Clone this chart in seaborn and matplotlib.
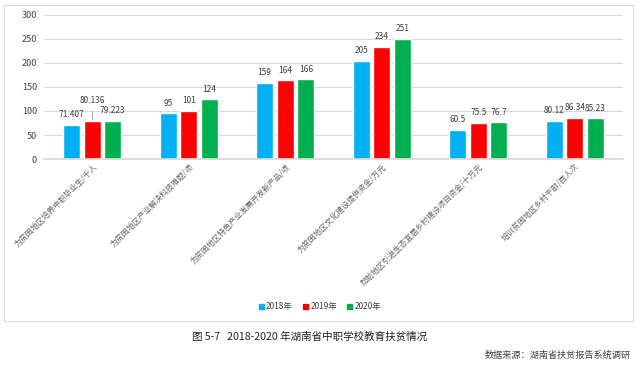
import matplotlib
matplotlib.use("Agg")
import matplotlib.pyplot as plt
import seaborn as sns
import pandas as pd
from matplotlib.patches import Rectangle

categories = [
    "为贫困地区培养中职毕业生/千人",
    "为贫困地区产业解决科技难题/项",
    "为贫困地区特色产业发展开发新产品/项",
    "为贫困地区文化建设提供资金/万元",
    "帮助地区引进生态宜居乡村建设项目资金/十万元",
    "培训贫困地区乡村干部/百人次",
]
years = ["2018年", "2019年", "2020年"]
v2018 = [71.407, 95, 159, 205, 60.5, 80.12]
v2019 = [80.136, 101, 164, 234, 75.5, 86.34]
v2020 = [79.223, 124, 166, 251, 76.7, 85.23]
labels2018 = ["71.407", "95", "159", "205", "60.5", "80.12"]
labels2019 = ["80.136", "101", "164", "234", "75.5", "86.34"]
labels2020 = ["79.223", "124", "166", "251", "76.7", "85.23"]
colors = ["#00B0F0", "#FF0000", "#00B050"]

rows = []
for c, a, b, d in zip(categories, v2018, v2019, v2020):
    rows += [(c, years[0], a), (c, years[1], b), (c, years[2], d)]
df = pd.DataFrame(rows, columns=["cat", "year", "val"])

sns.set_theme(style="white")
plt.rcParams["font.family"] = ["Noto Sans CJK SC", "DejaVu Sans"]

fig = plt.figure(figsize=(6.4, 3.67), dpi=100)
W, H = 640, 367
# outer chart frame
fig.patches.append(Rectangle((4 / W, 1 - 321 / H), 629 / W, 316 / H, transform=fig.transFigure,
                             fill=False, edgecolor="#d9d9d9", linewidth=0.8))
ax = fig.add_axes([44 / W, 1 - 159 / H, 579 / W, 144 / H])
sns.barplot(data=df, x="cat", y="val", hue="year", palette=colors, ax=ax,
            width=0.64, gap=0.16, saturation=1, legend=False)
ax.set_ylim(0, 300)
ax.set_xlim(-0.5, 5.5)
ax.set_yticks(range(0, 301, 50))
ax.grid(axis="y", color="#d9d9d9", linewidth=0.8)
ax.set_axisbelow(True)
for s in ["top", "right", "left"]:
    ax.spines[s].set_visible(False)
ax.spines["bottom"].set_color("#d9d9d9")
ax.tick_params(axis="y", length=0, labelsize=6.5, labelcolor="#404040", pad=5)
ax.tick_params(axis="x", length=0, pad=2)
ax.set_xlabel("")
ax.set_ylabel("")
ax.set_xticks(range(len(categories)))
ax.set_xticklabels(categories, rotation=45, ha="right", rotation_mode="anchor",
                   fontsize=5.7, color="#666666")

for i, (cont, labs) in enumerate(zip(ax.containers, [labels2018, labels2019, labels2020])):
    texts = ax.bar_label(cont, labels=labs, fontsize=6, color="#404040", padding=4)
    if i == 1:
        # first red label is lifted above its neighbours with a leader line
        texts[0].xyann = (0, 11)
        bar = cont.patches[0]
        xc = bar.get_x() + bar.get_width() / 2
        top = bar.get_height()
        ax.plot([xc, xc], [top + 1, top + 19], color="#a6a6a6", lw=0.6, zorder=5)

# legend
handles = [Rectangle((0, 0), 1, 1, color=c) for c in colors]
fig.legend(handles, years, loc="center", bbox_to_anchor=(320 / W, 1 - 307 / H), ncol=3,
           frameon=False, fontsize=6, handlelength=0.6, handleheight=0.6,
           handletextpad=0.3, columnspacing=1.2, labelcolor="#404040")

fig.text(310 / W, 1 - 337 / H, "图 5-7   2018-2020 年湖南省中职学校教育扶贫情况",
         ha="center", va="center", fontsize=7.6, color="#222222")
fig.text(631 / W, 1 - 355 / H, "数据来源：湖南省扶贫报告系统调研",
         ha="right", va="center", fontsize=6.6, color="#444444")

fig.savefig("out.png", dpi=100, facecolor="white")
